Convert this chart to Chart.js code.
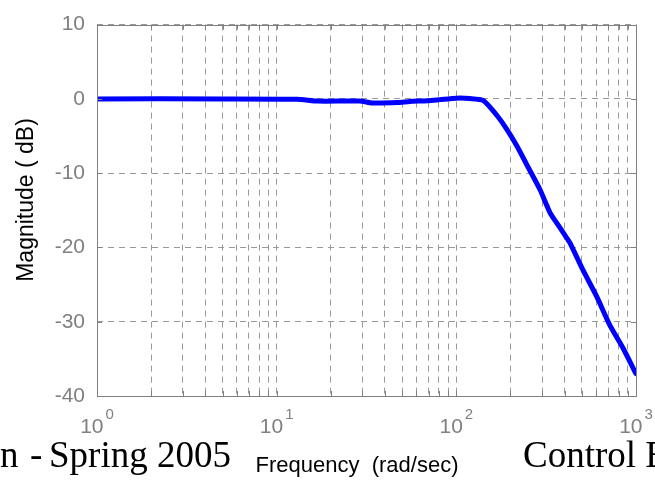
<!doctype html>
<html lang="en">
<head>
  <meta charset="utf-8">
  <title>Magnitude (dB)</title>
  <style>
    * { margin: 0; padding: 0; }
    body { background: white; }
    .chartBox { width: 655px; height: 483px; position: relative; }
  </style>
</head>
<body>
<div class="chartBox">
  <canvas id="myChart"></canvas>
</div>

<script src="https://cdn.jsdelivr.net/npm/chart.js"></script>
<script>
  // data
  const frequency = [1, 5, 13, 17, 29, 34, 47, 55, 69, 81, 100, 119, 141, 168, 191, 217, 251, 292, 332, 369, 411, 429, 508, 604, 716, 849, 1000];
  const magnitude = [0, 0, -0.05, -0.3, -0.3, -0.55, -0.5, -0.35, -0.25, -0.1, 0.1, 0.05, -0.2, -2.2, -4.1, -6.3, -9.2, -12.2, -15.3, -17.0, -18.7, -19.4, -23.1, -26.6, -30.5, -33.6, -37.0];

  // axis ticks
  const xGrid = [1, 2, 3, 4, 5, 6, 7, 8, 9, 10, 20, 30, 40, 50, 60, 70, 80, 90, 100, 200, 300, 400, 500, 600, 700, 800, 900, 1000];
  const xDecades = [1, 10, 100, 1000];
  const xExponents = ['0', '1', '2', '3'];
  const yTicks = [10, 0, -10, -20, -30, -40];

  const grey = '#808080';
  const sans = "'Liberation Sans', Arial, sans-serif";
  const serif = "'Liberation Serif', 'Times New Roman', serif";

  // box, inner ticks, x labels with exponents, titles, slide footer
  const decorations = {
    id: 'decorations',
    afterDraw(chart) {
      const ctx = chart.ctx;
      const a = chart.chartArea;
      const xs = chart.scales.x;
      const ys = chart.scales.y;
      ctx.save();
      ctx.strokeStyle = grey;
      ctx.lineWidth = 1;
      ctx.setLineDash([]);
      ctx.beginPath();
      xGrid.forEach(v => {
        const px = Math.round(xs.getPixelForValue(v)) + 0.5;
        ctx.moveTo(px, a.bottom); ctx.lineTo(px, a.bottom - 5);
        ctx.moveTo(px, a.top); ctx.lineTo(px, a.top + 5);
      });
      yTicks.forEach(v => {
        const py = Math.round(ys.getPixelForValue(v)) + 0.5;
        ctx.moveTo(a.left, py); ctx.lineTo(a.left + 5, py);
        ctx.moveTo(a.right, py); ctx.lineTo(a.right - 5, py);
      });
      ctx.stroke();
      ctx.strokeRect(Math.round(a.left) + 0.5, Math.round(a.top) + 0.5, Math.round(a.right - a.left), Math.round(a.bottom - a.top));

      // x tick labels 10^n
      ctx.fillStyle = grey;
      ctx.textBaseline = 'alphabetic';
      xDecades.forEach((v, i) => {
        const px = xs.getPixelForValue(v);
        ctx.font = '21px ' + sans;
        const wBase = ctx.measureText('10').width;
        ctx.font = '15px ' + sans;
        const wExp = ctx.measureText(xExponents[i]).width;
        const start = px - (wBase + 2 + wExp) / 2;
        ctx.textAlign = 'left';
        ctx.font = '21px ' + sans;
        ctx.fillText('10', start, 433);
        ctx.font = '15px ' + sans;
        ctx.fillText(xExponents[i], start + wBase + 2, 419);
      });

      // axis titles
      ctx.fillStyle = 'black';
      ctx.font = '22px ' + sans;
      ctx.textAlign = 'center';
      ctx.fillText('Frequency  (rad/sec)', 357, 472);
      ctx.save();
      ctx.translate(33, 200);
      ctx.rotate(-Math.PI / 2);
      ctx.font = '23px ' + sans;
      ctx.textAlign = 'center';
      ctx.fillText('Magnitude ( dB)', 0, 0);
      ctx.restore();

      // slide footer behind the figure
      ctx.font = '37px ' + serif;
      ctx.textAlign = 'left';
      ctx.fillText('n', 0, 467);
      ctx.fillText('-', 30, 467);
      ctx.fillText('Spring 2005', 49, 467);
      ctx.fillText('Control E', 523, 467);
      ctx.restore();
    }
  };

  const data = {
    datasets: [{
      label: 'Magnitude',
      data: frequency.map((f, i) => ({ x: f, y: magnitude[i] })),
      showLine: true,
      borderColor: '#0000ff',
      backgroundColor: '#0000ff',
      borderWidth: 5,
      pointRadius: 0,
      tension: 0.2,
      borderCapStyle: 'round',
      borderJoinStyle: 'round'
    }]
  };

  const config = {
    type: 'scatter',
    data,
    options: {
      responsive: true,
      maintainAspectRatio: false,
      animation: false,
      layout: { padding: { top: 15, right: 19, left: 0, bottom: 0 } },
      scales: {
        x: {
          type: 'logarithmic',
          min: 1,
          max: 1000,
          afterBuildTicks: (scale) => { scale.ticks = xGrid.map(v => ({ value: v })); },
          afterFit: (scale) => { scale.height = 87; },
          ticks: { display: false },
          grid: { color: '#999999', lineWidth: 1, drawTicks: false },
          border: { display: false, dash: [6, 5] }
        },
        y: {
          min: -40,
          max: 10,
          afterBuildTicks: (scale) => { scale.ticks = yTicks.map(v => ({ value: v })); },
          afterFit: (scale) => { scale.width = 97; },
          ticks: {
            color: grey,
            padding: 12,
            font: { family: sans, size: 21 }
          },
          grid: { color: '#999999', lineWidth: 1, drawTicks: false },
          border: { display: false, dash: [6, 5] }
        }
      },
      plugins: {
        legend: { display: false },
        tooltip: { enabled: false }
      }
    },
    plugins: [decorations]
  };

  const myChart = new Chart(document.getElementById('myChart'), config);
</script>
</body>
</html>
